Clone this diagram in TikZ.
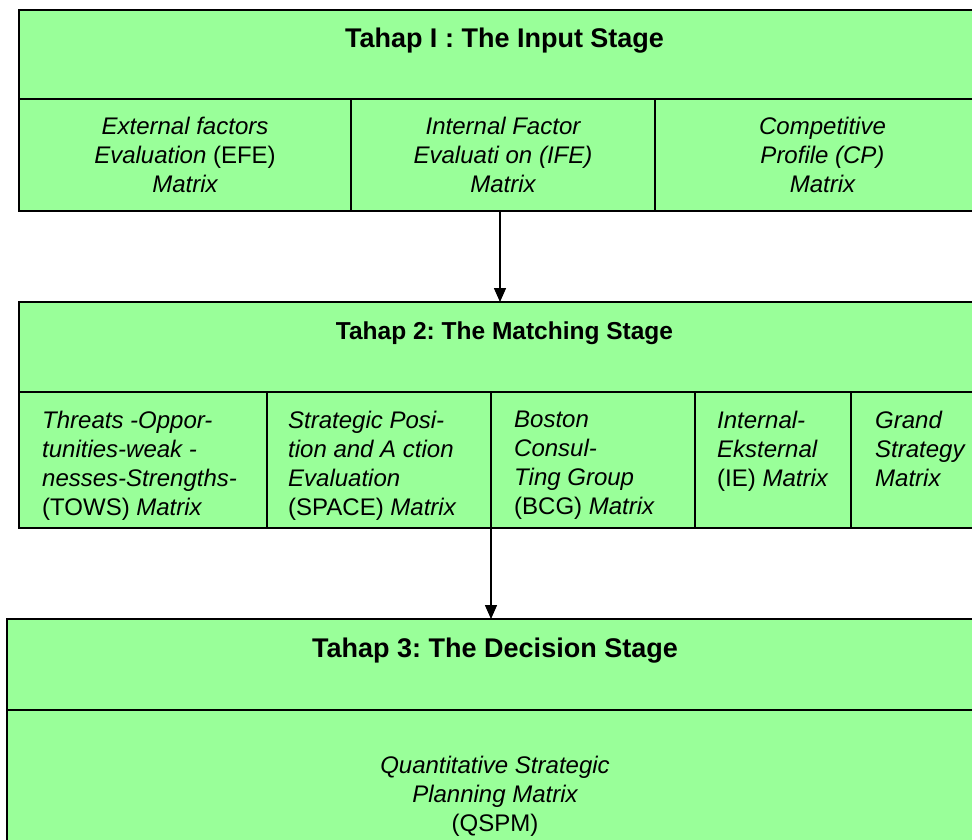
\documentclass[tikz,border=0pt]{standalone}
\usepackage{fontspec}
\setmainfont{Liberation Sans}
\usepackage{tikz}
\usetikzlibrary{arrows.meta,positioning}
\usepackage{xcolor}
\frenchspacing
\definecolor{stagegreen}{RGB}{153,255,153}
\tikzstyle{arrow} = [line width=1.5pt,->,>={Triangle[length=14pt,width=12pt]},color=black]
\tikzstyle{frame} = [rectangle, draw=black, fill=stagegreen, line width=2pt, anchor=north west, inner sep=0pt, outer sep=0pt]
\tikzstyle{body} = [font=\itshape\fontsize{24}{29}\selectfont, align=center]
\tikzstyle{celltext} = [font=\itshape\fontsize{24}{29}\selectfont, align=left, inner sep=0pt]
\tikzstyle{stagetitle} = [font=\bfseries\fontsize{27}{32}\selectfont, inner sep=0pt]

\begin{document}
\begin{tikzpicture}[x=1pt, y=-1pt]
\useasboundingbox (0,0) rectangle (972,839);
\clip (0,0) rectangle (972,839);

% Stage 1 box
\node[frame, minimum width=971pt, minimum height=89pt] (in-head) at (19,10) {};
\node[stagetitle, below=18pt of in-head.north] (in-title) {Tahap I : The Input Stage};
\node[frame, body, minimum width=332pt, minimum height=112pt] (efe) at (19,99) {
External factors\\
Evaluation \textup{(EFE)}\\
Matrix};
\node[frame, body, minimum width=304pt, minimum height=112pt] (ife) at (351,99) {
Internal Factor\\
Evaluati on (IFE)\\
Matrix};
\node[frame, body, minimum width=335pt, minimum height=112pt] (cp) at (655,99) {
Competitive\\
Profile (CP)\\
Matrix};

% Stage 2 box
\node[frame, minimum width=971pt, minimum height=90pt] (match-head) at (19,302) {};
\node[stagetitle, font=\bfseries\fontsize{24.5}{29}\selectfont, below=20pt of match-head.north] (match-title) {Tahap 2: The Matching Stage};
\node[frame, minimum width=248pt, minimum height=136pt] (tows) at (19,392) {};
\node[frame, minimum width=224pt, minimum height=136pt] (space) at (267,392) {};
\node[frame, minimum width=204pt, minimum height=136pt] (bcg) at (491,392) {};
\node[frame, minimum width=156pt, minimum height=136pt] (ie) at (695,392) {};
\node[frame, minimum width=139pt, minimum height=136pt] (grand) at (851,392) {};
\node[celltext, anchor=north west, below right=19pt and 23pt of tows.north west] (tows-txt) {
Threats -Oppor-\\
tunities-weak -\\
nesses-Strengths-\\
\textup{(TOWS)} Matrix};
\node[celltext, anchor=north west, below right=19pt and 21pt of space.north west] (space-txt) {
Strategic Posi-\\
tion and A ction\\
Evaluation\\
\textup{(SPACE)} Matrix};
\node[celltext, anchor=north west, below right=19pt and 23pt of bcg.north west] (bcg-txt) {
Boston\\
Consul-\\
Ting Group\\
\textup{(BCG)} Matrix};
\node[celltext, anchor=north west, below right=19pt and 22pt of ie.north west] (ie-txt) {
Internal-\\
Eksternal\\
\textup{(IE)} Matrix};
\node[celltext, anchor=north west, below right=19pt and 24pt of grand.north west] (grand-txt) {
Grand\\
Strategy\\
Matrix};

% Stage 3 box
\node[frame, minimum width=976pt, minimum height=91pt] (dec-head) at (7,619) {};
\node[stagetitle, below=19pt of dec-head.north] (dec-title) {Tahap 3: The Decision Stage};
\node[frame, body, minimum width=976pt, minimum height=172pt] (dec-body) at (7,710) {
Quantitative Strategic\\
Planning Matrix\\
\textup{(QSPM)}};

% Arrows
\draw[arrow] ([xshift=-3pt]ife.south) -- ([xshift=-3pt]ife.south |- match-head.north);
\draw[arrow] (bcg.south west) -- (bcg.south west |- dec-head.north);
\end{tikzpicture}
\end{document}
